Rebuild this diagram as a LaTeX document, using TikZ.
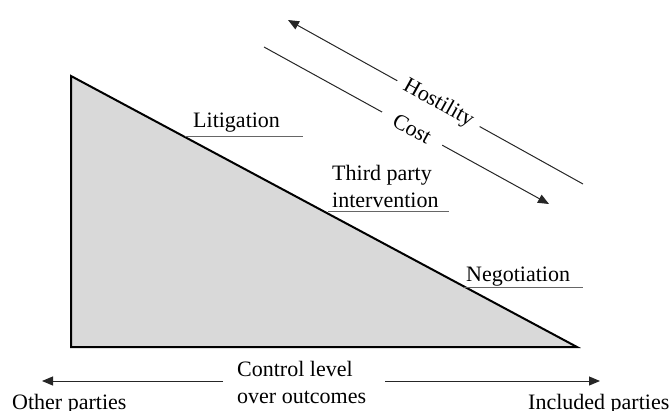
\documentclass[tikz,border=0pt]{standalone}
\usepackage{fontspec}
\setmainfont{Liberation Serif}
\usetikzlibrary{arrows.meta}
\begin{document}
\begin{tikzpicture}[x=1pt,y=-1pt,
  lbl/.style={inner sep=0pt, font=\fontsize{22}{26.5}\selectfont},
  underline/.style={line width=1pt, draw=black!60},
  arrowline/.style={line width=1pt, draw=black!85, -{Triangle[length=11pt,width=9pt]}},
  wedge/.style={fill=black!15, draw=black, line width=2pt, line join=miter},
  gaplabel/.style={lbl, sloped, fill=white, inner ysep=3pt}]
\useasboundingbox (0,0) rectangle (672,410);

% hostility and cost trends (drawn first so their white gaps stay behind other labels)
\coordinate (hosTail) at (583,184);
\coordinate (hosTip) at (288,20);
\draw[arrowline] (hosTail) -- node[gaplabel, pos=0.49, inner xsep=8.5pt] (hos) {Hostility} (hosTip);

\coordinate (costTail) at (264,47);
\coordinate (costTip) at (549,204);
\draw[arrowline] (costTail) -- node[gaplabel, pos=0.52, inner xsep=14pt] (cost) {Cost} (costTip);

% the control wedge
\coordinate (apex) at (71,76);
\coordinate (corner) at (71,347);
\coordinate (point) at (577,347);
\draw[wedge] (apex) -- (corner) -- (point) -- cycle;

% levels along the slope
\node[lbl, anchor=base west] (lit) at (193,127) {Litigation};
\coordinate (litL) at (185,136);
\coordinate (litR) at (303,136);
\draw[underline] (litL) -- (litR);

\node[lbl, anchor=base west, align=left] (third) at (332,207) {Third party\\intervention};
\coordinate (thirdL) at (328,211);
\coordinate (thirdR) at (449,211);
\draw[underline] (thirdL) -- (thirdR);

\node[lbl, anchor=base west] (neg) at (466,281) {Negotiation};
\coordinate (negL) at (463,287);
\coordinate (negR) at (583,287);
\draw[underline] (negL) -- (negR);

% control axis
\node[lbl, anchor=base west, align=left] (ctrl) at (237,403) {Control level\\over outcomes};
\coordinate (leftStart) at (223,381);
\coordinate (leftTip) at (42,381);
\coordinate (rightStart) at (385,381);
\coordinate (rightTip) at (600,381);
\draw[arrowline] (leftStart) -- (leftTip);
\draw[arrowline] (rightStart) -- (rightTip);

\node[lbl, anchor=base west] (other) at (12,409) {Other parties};
\node[lbl, anchor=base west] (incl) at (528,409) {Included parties};
\end{tikzpicture}
\end{document}
